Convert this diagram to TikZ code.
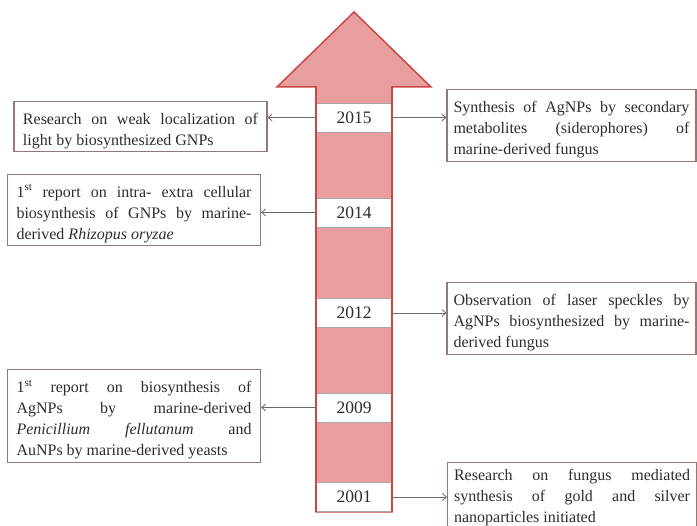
\documentclass[tikz,border=0pt]{standalone}
\usepackage{fontspec}
\setmainfont{Liberation Serif}
\usetikzlibrary{arrows.meta}
\definecolor{arrfill}{RGB}{232,158,158}
\definecolor{arredge}{RGB}{200,72,72}
\definecolor{boxedge}{RGB}{150,118,118}
\definecolor{txt}{RGB}{45,45,45}
\definecolor{conn}{RGB}{105,105,105}
\newcommand\evfont{\fontsize{16}{21}\selectfont\tolerance=10000\relax\hyphenpenalty=10000\relax\exhyphenpenalty=10000\relax}
\begin{document}
\begin{tikzpicture}[x=1pt,y=-1pt,
  evbox/.style={draw=boxedge, line width=1.1pt, fill=white, text=txt, align=justify,
    font=\evfont, inner ysep=3pt},
  lowered/.style={execute at begin node={\rule{0pt}{20pt}}},
  lbox/.style={evbox, lowered, text width=235pt, inner xsep=9pt},
  rbox/.style={evbox, lowered, text width=236pt, inner xsep=6.5pt},
  rboxcut/.style={evbox, text width=236pt, inner xsep=6.5pt},
  yearbox/.style={draw=gray!70, line width=0.6pt, fill=white, text=txt, minimum width=76pt,
    minimum height=29pt, inner sep=0pt, font=\fontsize{17.5}{20}\selectfont},
  conn/.style={draw=conn, line width=0.8pt, -{Straight Barb[length=4pt,width=7pt]}}]
\useasboundingbox (0,0) rectangle (697,526);
\clip (0,0) rectangle (697,526);
% big arrow
\draw[fill=arrfill, draw=arredge, line width=1.5pt, line join=miter]
  (316,512) -- (316,87) -- (277,87) -- (354,12) -- (431,87) -- (392,87) -- (392,512) -- cycle;
% year boxes
\node[yearbox] (y2015) at (354,117.5) {2015};
\node[yearbox] (y2014) at (354,212.5) {2014};
\node[yearbox] (y2012) at (354,313) {2012};
\node[yearbox] (y2009) at (354,407.5) {2009};
\node[yearbox] (y2001) at (354,497) {2001};
\draw[arredge, line width=1.5pt] (316,87) -- (316,512) (392,87) -- (392,512);
% left boxes
\node[lbox, minimum height=49pt] (l1) at (140.5,126.5)
  {Research on weak localization of\linebreak light by biosynthesized GNPs};
\node[lbox, minimum height=70pt] (l2) at (134,210)
  {1\textsuperscript{st} report on intra- extra cellular\linebreak biosynthesis of GNPs by marine-\linebreak derived \textit{Rhizopus oryzae}};
\node[lbox, minimum height=88pt] (l3) at (134,416)
  {1\textsuperscript{st} report on biosynthesis of\linebreak AgNPs by marine-derived\linebreak \textit{Penicillium fellutanum} and\linebreak AuNPs by marine-derived yeasts};
% right boxes
\node[rbox, minimum height=65pt] (r1) at (571.5,125.5)
  {Synthesis of AgNPs by secondary\linebreak metabolites (siderophores) of\linebreak marine-derived fungus};
\node[rbox, minimum height=67pt] (r2) at (571.5,318.5)
  {Observation of laser speckles by\linebreak AgNPs biosynthesized by marine-\linebreak derived fungus};
\node[rboxcut, minimum height=71pt, anchor=north west] (r3) at (447,462)
  {Research on fungus mediated\linebreak synthesis of gold and silver\linebreak nanoparticles initiated};
% connectors
\draw[conn] (y2015.west) -- (y2015.west -| l1.east);
\draw[conn] (y2014.west) -- (y2014.west -| l2.east);
\draw[conn] (y2009.west) -- (y2009.west -| l3.east);
\draw[conn] (y2015.east) -- (y2015.east -| r1.west);
\draw[conn] (y2012.east) -- (y2012.east -| r2.west);
\draw[conn] (y2001.east) -- (y2001.east -| r3.west);
\end{tikzpicture}
\end{document}
